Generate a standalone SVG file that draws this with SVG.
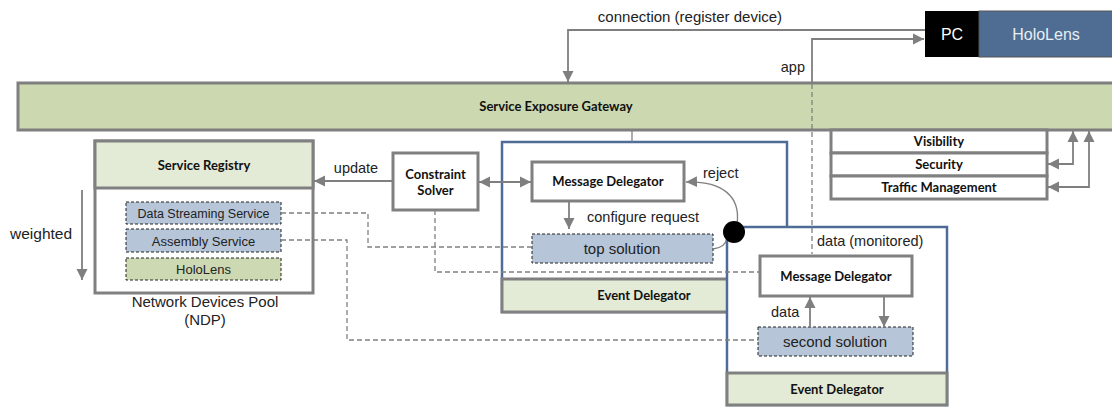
<svg xmlns="http://www.w3.org/2000/svg" width="1112" height="407" viewBox="0 0 1112 407">
<style>
.box{fill:#fff;stroke:#808080;stroke-width:3}
.hdr{fill:#e3ead6;stroke:#808080;stroke-width:3}
.frame{fill:#fff;stroke:#4e6c96;stroke-width:2.5}
.blue{fill:#b6c5d8;stroke:#222;stroke-width:1;stroke-dasharray:3,2}
.green{fill:#cdd9b2;stroke:#222;stroke-width:1;stroke-dasharray:3,2}
.b{font-family:Lato,"Liberation Sans",sans-serif;font-weight:bold;font-size:13px;fill:#111;text-anchor:middle}
.t{font-family:"Liberation Sans",Arial,sans-serif;font-size:14.5px;fill:#222}
.c{text-anchor:middle}
.arr{fill:none;stroke:#7f7f7f;stroke-width:1.8}
.thin{fill:none;stroke:#7f7f7f;stroke-width:1.3}
.dash{fill:none;stroke:#808080;stroke-width:1.3;stroke-dasharray:5,3}
</style>
<defs>
<marker id="ah" markerUnits="userSpaceOnUse" markerWidth="12" markerHeight="12" refX="11" refY="6" orient="auto-start-reverse">
<path d="M0,0.5 L11,6 L0,11.5 z" fill="#7f7f7f"/>
</marker>
</defs>

<g id="gateway">
<rect x="18" y="83" width="1100" height="47" fill="#cbd8b0" stroke="#7f7f7f" stroke-width="3"/>
<text class="b" x="556" y="111">Service Exposure Gateway</text>
</g>

<g id="pc-hololens">
<rect x="925" y="11" width="54" height="46" fill="#000"/>
<rect x="979" y="11" width="140" height="46" fill="#4f6d93" stroke="#555" stroke-width="1"/>
<text class="t c" x="952" y="40" style="fill:#fff;font-size:16px">PC</text>
<text class="t c" x="1046" y="40" style="fill:#e8eef4;font-size:16px">HoloLens</text>
</g>

<g id="service-registry">
<rect class="box" x="95" y="141" width="218" height="152"/>
<rect class="hdr" x="95" y="141" width="218" height="47"/>
<text class="b" x="204" y="170">Service Registry</text>
<rect class="blue" x="126" y="202" width="155" height="22"/>
<text class="t c" x="203.5" y="218" style="font-size:12.5px">Data Streaming Service</text>
<rect class="blue" x="126" y="229" width="155" height="23"/>
<text class="t c" x="203.5" y="246" style="font-size:13px">Assembly Service</text>
<rect class="green" x="126" y="258" width="155" height="22"/>
<text class="t c" x="203.5" y="274" style="font-size:13px">HoloLens</text>
<text class="t c" x="205" y="307" style="font-size:15px">Network Devices Pool</text>
<text class="t c" x="205" y="325" style="font-size:15px">(NDP)</text>
</g>

<g id="weighted">
<text class="t" x="10" y="239" style="font-size:15.5px">weighted</text>
</g>

<g id="constraint-solver">
<rect class="box" x="393" y="153" width="85" height="57"/>
<text class="b" x="435.5" y="179">Constraint</text>
<text class="b" x="435.5" y="195">Solver</text>
</g>

<g id="event-delegator-1">
<rect class="frame" x="502" y="142" width="285" height="170"/>
<rect class="hdr" x="502" y="279" width="285" height="33"/>
<text class="b" x="644" y="300">Event Delegator</text>
<rect class="box" x="532" y="162" width="152" height="39"/>
<text class="b" x="608" y="186">Message Delegator</text>
<rect class="blue" x="532" y="234" width="181" height="29"/>
<text class="t c" x="622" y="254" style="font-size:15px">top solution</text>
</g>

<g id="event-delegator-2">
<rect class="frame" x="727" y="227" width="220" height="178"/>
<rect class="hdr" x="727" y="373" width="220" height="32"/>
<text class="b" x="837" y="394">Event Delegator</text>
<rect class="box" x="760" y="256" width="152" height="40"/>
<text class="b" x="836" y="281">Message Delegator</text>
<rect class="blue" x="758" y="327" width="155" height="29"/>
<text class="t c" x="835" y="347" style="font-size:15px">second solution</text>
</g>

<g id="policies">
<rect class="box" x="831" y="130" width="216" height="23"/>
<text class="b" x="939" y="146">Visibility</text>
<rect class="box" x="831" y="153" width="216" height="23"/>
<text class="b" x="939" y="169">Security</text>
<rect class="box" x="831" y="176" width="216" height="23"/>
<text class="b" x="939" y="192">Traffic Management</text>
</g>

<g id="connectors">
<path class="arr" d="M925,30 H568 V82" marker-end="url(#ah)"/>
<text class="t c" x="690" y="22" style="font-size:15px">connection (register device)</text>
<path class="arr" d="M812,83 V39 H924" marker-end="url(#ah)"/>
<path class="dash" d="M812,84 V254"/>
<text class="t" x="805" y="72" style="text-anchor:end">app</text>
<text class="t" x="817" y="246">data (monitored)</text>
<path class="thin" d="M632,130 V142"/>
<path class="arr" d="M82,190 V280" marker-end="url(#ah)"/>
<path class="arr" d="M393,181 H314" marker-end="url(#ah)"/>
<text class="t c" x="356" y="173">update</text>
<path class="arr" d="M479,182 H531" marker-start="url(#ah)" marker-end="url(#ah)"/>
<path class="arr" d="M569,201 V229" marker-end="url(#ah)"/>
<text class="t" x="587" y="222">configure request</text>
<path class="thin" d="M713,249 C722,248 726,244 727,238"/>
<path class="thin" d="M737,224 C741,196 722,181 686,182" marker-end="url(#ah)"/>
<circle cx="734" cy="232" r="11" fill="#000"/>
<text class="t" x="703" y="178">reject</text>
<path class="arr" d="M810,327 V297" marker-end="url(#ah)"/>
<text class="t" x="771" y="317">data</text>
<path class="arr" d="M884,297 V327" marker-end="url(#ah)"/>
<path class="arr" d="M1048,164 H1073 V131" marker-start="url(#ah)" marker-end="url(#ah)"/>
<path class="arr" d="M1048,187 H1089 V131" marker-start="url(#ah)" marker-end="url(#ah)"/>
<path class="dash" d="M281,213 H368 V247 H532"/>
<path class="dash" d="M281,240 H347 V340 H758"/>
<path class="dash" d="M435,210 V272 H760"/>
</g>
</svg>
